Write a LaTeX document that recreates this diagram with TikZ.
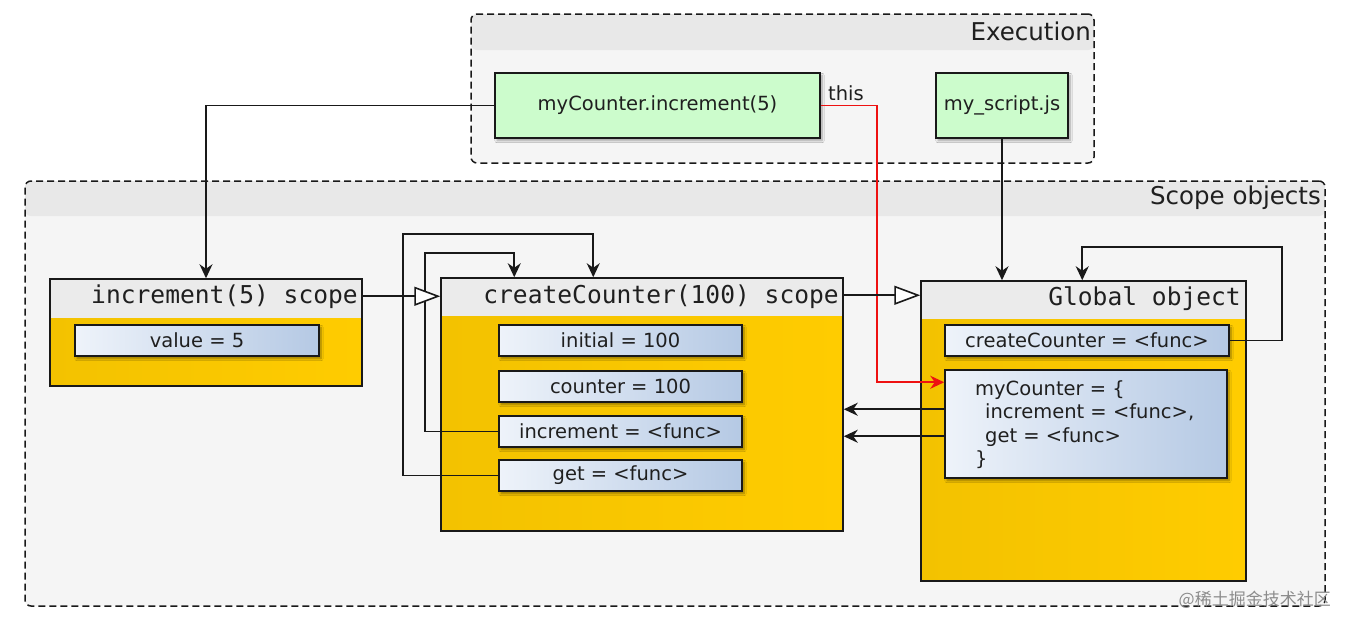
\documentclass[tikz,border=0pt]{standalone}
\usepackage{fontspec}
\setmainfont{DejaVu Sans}
\setmonofont{DejaVu Sans Mono}
\newfontfamily\cjkfont{Noto Sans CJK SC}
\usetikzlibrary{arrows.meta,shadows.blur,calc}
\definecolor{greenbox}{HTML}{CCFCCC}
\definecolor{hdrgray}{HTML}{EBEBEB}
\definecolor{contbody}{HTML}{F5F5F5}
\definecolor{contband}{HTML}{E8E8E8}
\definecolor{yelL}{HTML}{F3C200}
\definecolor{yelM}{HTML}{E8B500}
\definecolor{yelR}{HTML}{FFCC00}
\definecolor{bluL}{HTML}{EEF3FA}
\definecolor{bluR}{HTML}{B5C9E4}
\definecolor{redline}{HTML}{EE1111}
\tikzset{
  txt/.style={font=\fontsize{19.5}{23}\selectfont, text=black!88},
  monotxt/.style={font=\ttfamily\fontsize{24.6}{28}\selectfont, text=black!88, inner sep=0pt},
  labtxt/.style={font=\fontsize{24.5}{28}\selectfont, text=black!88, inner sep=0pt},
  container/.style={draw=black!90, line width=1.5pt, dash pattern=on 7pt off 4pt,
    rounded corners=6pt, fill=contbody},
  greenbox/.style={draw=black!90, line width=1.5pt, fill=greenbox, txt,
    blur shadow={shadow xshift=2pt, shadow yshift=-2.5pt, shadow blur steps=6, shadow opacity=35}},
  varbox/.style={draw=black!90, line width=1.5pt, left color=bluL, right color=bluR, txt,
    minimum height=31pt, inner sep=0pt,
    blur shadow={shadow xshift=2pt, shadow yshift=-2.5pt, shadow blur steps=6, shadow opacity=40}},
  scopebox/.style={draw=black!90, line width=1.5pt, left color=yelL, middle color=yelM, right color=yelR,
    inner sep=0pt},
  arr/.style={draw=black!90, line width=1.6pt, -{Stealth[length=14pt,width=13pt,inset=4.5pt]}},
  redarr/.style={draw=redline, line width=1.6pt, -{Stealth[length=14pt,width=13pt,inset=4.5pt]}},
  inh/.style={draw=black!90, line width=1.6pt, -{Triangle[open,length=26pt,width=19pt,fill=white]}},
}
\begin{document}
\begin{tikzpicture}[x=1pt,y=-1pt]
\useasboundingbox (0,0) rectangle (1349,630);
\fill[white] (0,0) rectangle (1349,630);

% containers
\node[container, minimum width=623pt, minimum height=149pt, inner sep=0pt,
  path picture={\fill[contband] (path picture bounding box.north west) rectangle ([yshift=-36pt]path picture bounding box.north east);}]
  (exec) at (782.5,88.5) {};
\node[labtxt, anchor=east] (execlab) at (1091,31) {Execution};

\node[container, minimum width=1300pt, minimum height=425pt, inner sep=0pt,
  path picture={\fill[contband] (path picture bounding box.north west) rectangle ([yshift=-35pt]path picture bounding box.north east);}]
  (scope) at (675,393.5) {};
\node[labtxt, anchor=east] (scopelab) at (1321,198) {Scope objects};

% execution boxes
\node[greenbox, minimum width=325pt, minimum height=65pt, inner sep=0pt] (mci) at (657.5,105.5) {myCounter.increment(5)};
\node[greenbox, minimum width=132pt, minimum height=65pt, inner sep=0pt] (ms) at (1002,105.5) {my\_script.js};

% scope boxes
\node[scopebox, minimum width=312pt, minimum height=107pt,
  path picture={\fill[hdrgray] (path picture bounding box.north west) rectangle ([yshift=-39pt]path picture bounding box.north east);}]
  (inc) at (206,332.5) {};
\node[monotxt, anchor=east] (inctitle) at (358,297) {increment(5) scope};
\node[varbox, minimum width=244pt] (val) at (197,340.5) {value = 5};

\node[scopebox, minimum width=402pt, minimum height=253pt,
  path picture={\fill[hdrgray] (path picture bounding box.north west) rectangle ([yshift=-38pt]path picture bounding box.north east);}]
  (cc) at (642,404.5) {};
\node[monotxt, anchor=east] (cctitle) at (839,297) {createCounter(100) scope};
\node[varbox, minimum width=243pt] (initial) at (620.5,340.5) {initial = 100};
\node[varbox, minimum width=243pt] (counter) at (620.5,386.5) {counter = 100};
\node[varbox, minimum width=243pt] (incf) at (620.5,431.5) {increment = <func>};
\node[varbox, minimum width=243pt] (getf) at (620.5,475.5) {get = <func>};

\node[scopebox, minimum width=325pt, minimum height=300pt,
  path picture={\fill[hdrgray] (path picture bounding box.north west) rectangle ([yshift=-38pt]path picture bounding box.north east);}]
  (glob) at (1083.5,431) {};
\node[monotxt, anchor=east] (globtitle) at (1241,299) {Global object};
\node[varbox, minimum width=284pt] (ccf) at (1087,340.5) {createCounter = <func>};
\node[varbox, minimum width=282pt, minimum height=108pt] (mycnt) at (1086,424) {};
\node[txt, anchor=north west, align=left, inner sep=0pt, font=\fontsize{19.5}{23.5}\selectfont]
  (mycnttext) at (975,380) {myCounter = \{\\\hspace*{10pt}increment = <func>,\\\hspace*{10pt}get = <func>\\\}};

% connectors
\draw[arr] (mci.west) -| (inc.north);
\draw[arr] (ms.south) -- (ms.south |- glob.north);
\draw[redarr] (mci.east) -- ++(56,0) |- ([yshift=-13pt]mycnt.north west);
\node[txt, anchor=south west, inner sep=0pt] (thislab) at (828,101) {this};

\draw[arr] (incf.west) -| (425,253) -| ([xshift=74pt]cc.north west);
\draw[arr] (getf.west) -| (403,234) -| ([xshift=153pt]cc.north west);
\draw[arr] (ccf.east) -| (1282,247) -| ([xshift=162pt]glob.north west);

\coordinate (m1) at ([yshift=-40pt]mycnt.north west);
\coordinate (m2) at ([yshift=-67pt]mycnt.north west);
\draw[arr] (m1) -- (m1 -| cc.east);
\draw[arr] (m2) -- (m2 -| cc.east);

\coordinate (i1) at ([yshift=-18pt]inc.north east);
\coordinate (c1) at ([yshift=-18pt]cc.north east);
\draw[inh] (i1) -- (i1 -| cc.west);
\draw[inh] (c1) -- (c1 -| glob.west);

% watermark
\node[font=\cjkfont\fontsize{17}{20}\selectfont, text=black!45, anchor=east, inner sep=0pt] (wm) at (1331,600) {@稀土掘金技术社区};
\end{tikzpicture}
\end{document}
